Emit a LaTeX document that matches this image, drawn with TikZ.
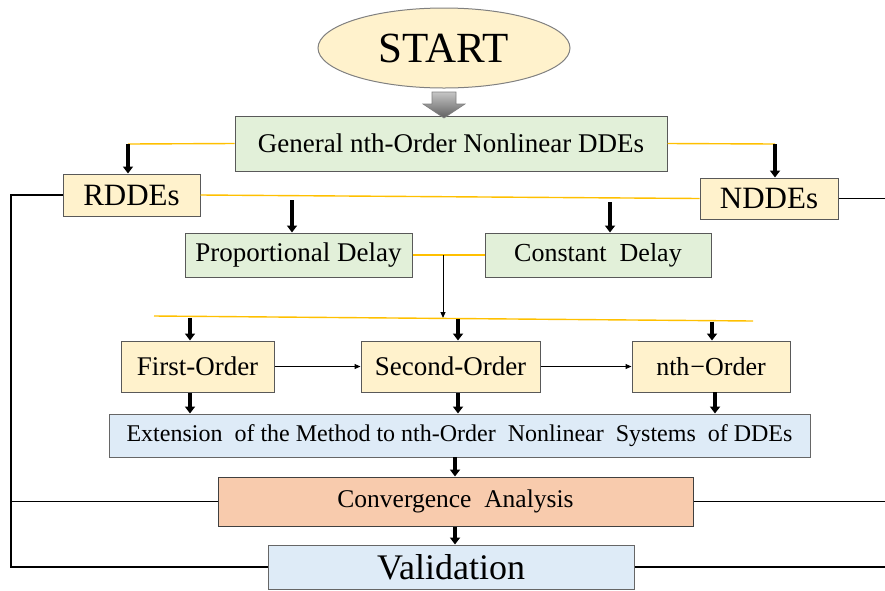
\documentclass[tikz,border=0pt]{standalone}
\usepackage{fontspec}
\setmainfont{Liberation Serif}
\usetikzlibrary{arrows.meta,shapes.geometric,calc}

\definecolor{boxyellow}{HTML}{FFF2CC}
\definecolor{boxgreen}{HTML}{E2F0D9}
\definecolor{boxblue}{HTML}{DEEBF7}
\definecolor{boxorange}{HTML}{F8CBAD}
\definecolor{linkyellow}{HTML}{FFC000}
\definecolor{frame}{HTML}{595959}

\tikzset{
  box/.style={draw=frame, line width=1pt, rectangle, inner sep=0pt, align=center},
  fs/.style={font=\fontsize{#1}{#1}\selectfont},
  ybox/.style={box, fill=boxyellow},
  gbox/.style={box, fill=boxgreen},
  bbox/.style={box, fill=boxblue, draw=gray!80!black},
  obox/.style={box, fill=boxorange, draw=black!75},
  ylink/.style={draw=linkyellow, line width=1.4pt},
  blink/.style={draw=black, line width=1.3pt},
  fatarrow/.style={draw=black, line width=3.2pt, -{Triangle[width=10pt,length=7pt]}},
  thinarrow/.style={draw=black, line width=1pt, -{Triangle[width=5pt,length=6pt]}},
}

\begin{document}
\begin{tikzpicture}[x=1pt, y=-1pt]
\useasboundingbox (0,0) rectangle (885,590);

% start and the boxes
\node[ellipse, draw=gray, line width=1pt, fill=boxyellow, minimum width=252pt, minimum height=80pt, inner sep=0pt, fs=43]
  (start) at (444,48) {START};
\node[gbox, minimum width=432pt, minimum height=55pt, fs=27] (gen) at (451,143.5) {General nth-Order Nonlinear DDEs};
\node[ybox, minimum width=137pt, minimum height=42pt, fs=31] (rdd) at (131.5,195) {RDDEs};
\node[ybox, minimum width=138pt, minimum height=41pt, fs=31] (ndd) at (769,198.5) {NDDEs};
\node[gbox, minimum width=227pt, minimum height=44pt, fs=27] (prop) at (298.5,255) {Proportional Delay};
\node[gbox, minimum width=226pt, minimum height=44pt, fs=26] (const) at (598,255) {Constant\ \ Delay};
\node[ybox, minimum width=153pt, minimum height=51pt, fs=27] (first) at (197.5,366.5) {First-Order};
\node[ybox, minimum width=179pt, minimum height=51pt, fs=27] (second) at (450.5,366.5) {Second-Order};
\node[ybox, minimum width=158pt, minimum height=51pt, fs=26] (nth) at (711,366.5) {nth\hspace{1pt}−Order};
\node[bbox, minimum width=701pt, minimum height=43pt, fs=24] (ext) at (459.5,435.5)
  {Extension\ \ of the Method to nth-Order\ \ Nonlinear\ \ Systems\ \ of DDEs};
\node[obox, minimum width=475pt, minimum height=49pt, fs=25.5] (conv) at (455.5,501.5) {Convergence\ \ Analysis};
\node[bbox, minimum width=366pt, minimum height=44pt, fs=36] (valid) at (451,567) {Validation};

% block arrow from start
\path[draw=gray, line width=0.6pt, top color=gray!45, bottom color=gray!75!black]
  (432,92) -- (456,92) -- (456,104) -- (465,104) -- (444,118) -- (423,104) -- (432,104) -- cycle;

% split into retarded and neutral DDEs
\coordinate (gl) at (128,144);
\coordinate (gr) at (775,144);
\draw[ylink] (gen.west) -- (gl);
\draw[ylink] (gen.east) -- (gr);
\draw[fatarrow] (gl) -- (gl |- rdd.north);
\draw[fatarrow] (gr) -- (gr |- ndd.north);
\draw[ylink] (rdd.east) -- (ndd.west);

% delay types
\coordinate (pd) at (292,200);
\coordinate (cd) at (610,202);
\draw[fatarrow] (pd) -- (pd |- prop.north);
\draw[fatarrow] (cd) -- (cd |- const.north);
\draw[ylink] (prop.east) -- (const.west);

% orders
\coordinate (mid) at (443,255);
\coordinate (midd) at (443,318);
\draw[thinarrow] (mid) -- (midd);
\coordinate (ol) at (154,316);
\coordinate (or) at (753,321);
\draw[ylink] (ol) -- (or);
\coordinate (a1) at (190,318);
\coordinate (a2) at (458,319);
\coordinate (a3) at (712,321.5);
\draw[fatarrow] (a1) -- (a1 |- first.north);
\draw[fatarrow] (a2) -- (a2 |- second.north);
\draw[fatarrow] (a3) -- (a3 |- nth.north);
\draw[thinarrow] (first.east) -- (second.west);
\draw[thinarrow] (second.east) -- (nth.west);

% down to the extension, analysis and validation
\draw[fatarrow] (first.south -| a1) -- (a1 |- ext.north);
\draw[fatarrow] (second.south -| a2) -- (a2 |- ext.north);
\coordinate (a4) at (715,392);
\draw[fatarrow] (a4) -- (a4 |- ext.north);
\coordinate (a5) at (455,457);
\draw[fatarrow] (a5) -- (a5 |- conv.north);
\draw[fatarrow] (a5 |- conv.south) -- (a5 |- valid.north);

% feedback lines at the sides
\coordinate (lt) at (11,195);
\coordinate (lb) at (11,567);
\draw[blink] (rdd.west) -- (lt) -- (lb) -- (valid.west);
\coordinate (lc) at (11,501.5);
\draw[blink] (lc) -- (conv.west);
\coordinate (r1) at (885,198.5);
\coordinate (r2) at (885,501.5);
\coordinate (r3) at (885,567);
\draw[blink] (ndd.east) -- (r1);
\draw[blink] (conv.east) -- (r2);
\draw[blink] (valid.east) -- (r3);
\end{tikzpicture}
\end{document}
